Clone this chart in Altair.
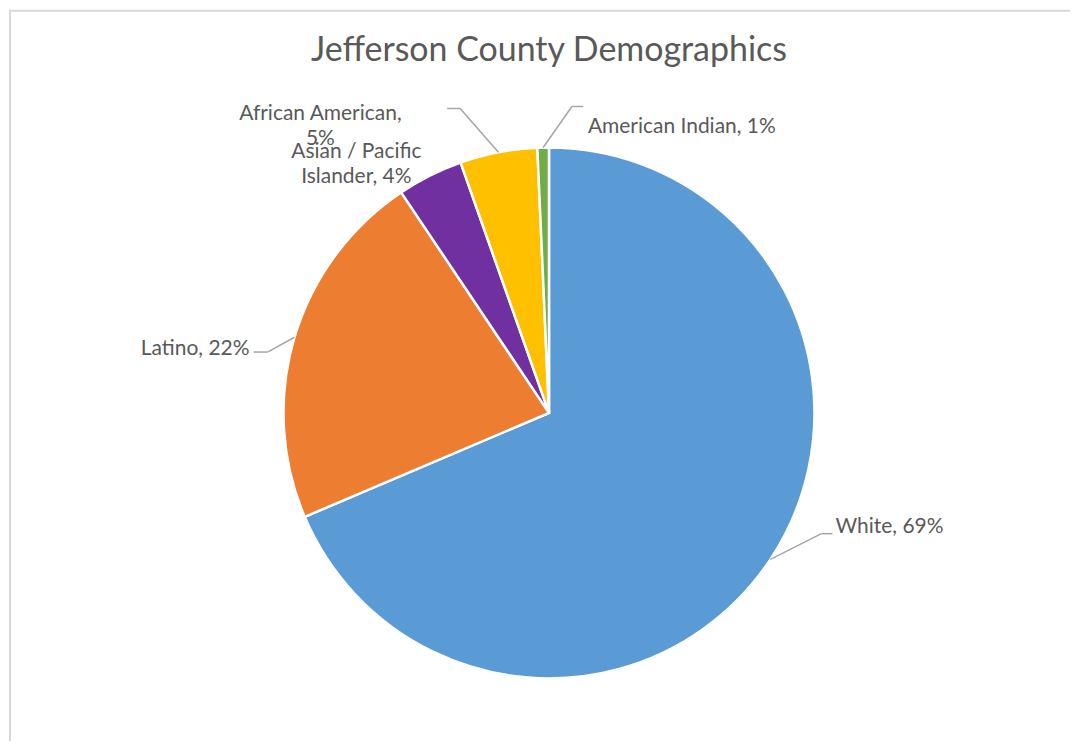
import math
import altair as alt
import pandas as pd

# ---- data ----
TITLE = "Jefferson County Demographics"
categories = ["White", "Latino", "Asian / Pacific Islander", "African American", "American Indian"]
shares = [68.6, 22.0, 4.0, 4.7, 0.7]
label_texts = ["White, 69%", "Latino, 22%", "Asian / Pacific\nIslander, 4%", "African American,\n5%", "American Indian, 1%"]
colors = ["#5B9BD5", "#ED7D31", "#7030A0", "#FFC000", "#70AD47"]

# ---- layout (chart pixel space) ----
W, H = 1063, 733
CX, CY, R = 541, 404, 266
# label anchor, alignment, leader elbow/end (None = no leader)
layout = {
    "White": dict(tx=828, ty=518, align="left", elbow=(814, 525), end=(825, 525)),
    "Latino": dict(tx=241, ty=340, align="right", elbow=(259, 343), end=(245, 343)),
    "Asian / Pacific Islander": dict(tx=348, ty=143, align="center", elbow=None, end=None),
    "African American": dict(tx=312, ty=105, align="center", elbow=(452, 99), end=(439, 99)),
    "American Indian": dict(tx=580, ty=118, align="left", elbow=(564, 97), end=(575, 97)),
}
TEXT_GRAY = "#595959"
FONT = "Lato"

pie_df = pd.DataFrame({"category": categories, "share": shares, "order": list(range(len(categories)))})

# leader lines: start at pie edge at each slice's mid angle (computed from data)
total = sum(shares)
segs = []
labels = []
cum = 0.0
for cat, s, txt in zip(categories, shares, label_texts):
    mid = (cum + s / 2) / total * 2 * math.pi
    cum += s
    ex, ey = CX + R * math.sin(mid), CY - R * math.cos(mid)
    L = layout[cat]
    labels.append(dict(category=cat, text=txt, x=L["tx"], y=L["ty"], align=L["align"]))
    if L["elbow"] is not None:
        segs.append(dict(x1=ex, y1=ey, x2=L["elbow"][0], y2=L["elbow"][1]))
        segs.append(dict(x1=L["elbow"][0], y1=L["elbow"][1], x2=L["end"][0], y2=L["end"][1]))
seg_df = pd.DataFrame(segs)
lab_df = pd.DataFrame(labels)

pie = alt.Chart(pie_df).mark_arc(radius=R, stroke="white", strokeWidth=2.5).encode(
    theta=alt.Theta("share:Q", stack=True),
    color=alt.Color("category:N", scale=alt.Scale(domain=categories, range=colors), legend=None),
    order=alt.Order("order:Q"),
    x=alt.value(CX),
    y=alt.value(CY),
)

leaders = alt.Chart(seg_df).mark_rule(color="#A6A6A6", strokeWidth=1.5).encode(
    x=alt.X("x1:Q", scale=None, axis=None),
    y=alt.Y("y1:Q", scale=None, axis=None),
    x2="x2:Q",
    y2="y2:Q",
)

def label_layer(align):
    d = lab_df[lab_df["align"] == align]
    return alt.Chart(d).mark_text(
        align=align, baseline="middle", font=FONT, fontSize=21, color=TEXT_GRAY,
        lineBreak="\n", lineHeight=25,
    ).encode(
        x=alt.X("x:Q", scale=None, axis=None),
        y=alt.Y("y:Q", scale=None, axis=None),
        text="text:N",
    )

title = alt.Chart(pd.DataFrame({"t": [TITLE]})).mark_text(
    font=FONT, fontSize=34, color=TEXT_GRAY, align="center", baseline="middle"
).encode(text="t:N", x=alt.value(CX), y=alt.value(41))

border_left = alt.Chart(pd.DataFrame({"a": [0]})).mark_rule(color="#D9D9D9", strokeWidth=2).encode(
    x=alt.value(1), y=alt.value(0), y2=alt.value(H)
)
border_top = alt.Chart(pd.DataFrame({"a": [0]})).mark_rule(color="#D9D9D9", strokeWidth=2).encode(
    x=alt.value(0), x2=alt.value(W), y=alt.value(1)
)

chart = alt.layer(
    border_left, border_top, pie, leaders,
    label_layer("left"), label_layer("right"), label_layer("center"), title,
).properties(width=W, height=H, padding=0, background="white").configure_view(stroke=None)

chart.save("out.html", embed_options={"renderer": "svg", "actions": False})
